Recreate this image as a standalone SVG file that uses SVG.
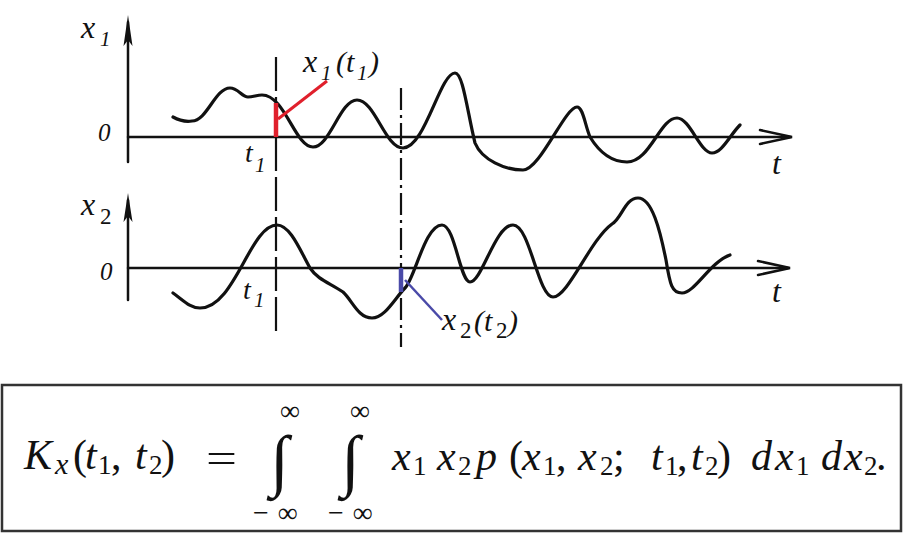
<svg xmlns="http://www.w3.org/2000/svg" width="903" height="533" viewBox="0 0 903 533">
<style>
text{font-family:'Liberation Serif',serif !important}
.ax{stroke:#111;stroke-width:2.5;fill:none;stroke-linecap:round}
.cv{stroke:#111;stroke-width:3.2;fill:none;stroke-linecap:round;stroke-linejoin:round}
</style>
<rect width="903" height="533" fill="#fff"/>

<g id="plot-top">
  <line class="ax" x1="128" y1="22" x2="128" y2="162"/>
  <polygon points="128,15 123.5,46 128,40 132.5,46" fill="#111"/>
  <line class="ax" x1="128" y1="137" x2="790" y2="137"/>
  <path class="ax" d="M760,130 L792,137 L760,144"/>
  <text font-family="Liberation Serif" font-style="italic" fill="#111" x="81" y="38" font-size="32">x</text>
  <text font-family="Liberation Serif" font-style="italic" fill="#111" x="100" y="46" font-size="21">1</text>
  <text font-family="Liberation Serif" font-style="italic" fill="#111" x="98" y="141" font-size="25">0</text>
  <text font-family="Liberation Serif" font-style="italic" fill="#111" x="245" y="162" font-size="28">t</text>
  <text font-family="Liberation Serif" font-style="italic" fill="#111" x="255" y="172" font-size="21">1</text>
  <text font-family="Liberation Serif" font-style="italic" fill="#111" x="772" y="174" font-size="32">t</text>
  <path class="cv" d="M173,117 C180,121 185,122 192,121 C207,121 215,88 230,88 C238,88 242,97 248,97 C253,97 257,95 262,95 C285,95 295,147 313,147 C330,147 340,100 357,100 C375,100 385,148 403,148 C425,148 440,73 455,73 C463,73 467,110 475,143 C482,160 505,170 523,170 C540,170 565,107 577,107 C583,107 585,125 590,137 C598,150 610,162 627,162 C650,162 660,118 677,118 C690,118 700,153 712,153 C722,153 730,135 740,125"/>
</g>

<g id="plot-bottom">
  <line class="ax" x1="128" y1="200" x2="128" y2="300"/>
  <polygon points="128,193 123.5,222 128,216 132.5,222" fill="#111"/>
  <line class="ax" x1="128" y1="268" x2="788" y2="268"/>
  <path class="ax" d="M758,261 L790,268 L758,275"/>
  <text font-family="Liberation Serif" font-style="italic" fill="#111" x="81" y="215" font-size="32">x</text>
  <text font-family="Liberation Serif" fill="#111" x="100" y="224" font-size="23">2</text>
  <text font-family="Liberation Serif" font-style="italic" fill="#111" x="100" y="280" font-size="25">0</text>
  <text font-family="Liberation Serif" font-style="italic" fill="#111" x="243" y="299" font-size="28">t</text>
  <text font-family="Liberation Serif" font-style="italic" fill="#111" x="254" y="307" font-size="21">1</text>
  <text font-family="Liberation Serif" font-style="italic" fill="#111" x="772" y="302" font-size="32">t</text>
  <path class="cv" d="M173,293 C183,300 190,308 200,308 C235,308 250,225 277,225 C290,225 300,250 310,268 C318,280 330,283 343,292 C352,300 358,318 372,318 C385,318 395,298 405,288 C415,278 425,225 442,225 C455,225 460,282 470,282 C482,282 495,225 513,225 C530,225 538,297 553,297 C568,297 590,240 612,224 C622,218 625,198 638,198 C652,198 660,230 666,260 C670,285 672,293 682,293 C695,293 710,262 730,255"/>
</g>

<g id="time-markers">
  <line x1="276" y1="57" x2="276" y2="335" stroke="#111" stroke-width="2.2" stroke-dasharray="34 6"/>
  <line x1="401" y1="88" x2="401" y2="347" stroke="#111" stroke-width="2.2" stroke-dasharray="22 5 3 5"/>
</g>

<g id="connectors">
  <line x1="276" y1="103" x2="276" y2="137" stroke="#e0202c" stroke-width="4.5"/>
  <line x1="278" y1="119" x2="327" y2="81" stroke="#e0202c" stroke-width="3"/>
  <line x1="401" y1="268" x2="401" y2="292" stroke="#4a4aa8" stroke-width="4.5"/>
  <line x1="405" y1="280" x2="442" y2="320" stroke="#4a4aa8" stroke-width="2.5"/>
</g>

<g id="label-x1t1">
  <text font-family="Liberation Serif" font-style="italic" fill="#111" x="303" y="72" font-size="32">x</text>
  <text font-family="Liberation Serif" font-style="italic" fill="#111" x="321" y="80" font-size="21">1</text>
  <text font-family="Liberation Serif" font-style="italic" fill="#111" x="336" y="72" font-size="30">(t</text>
  <text font-family="Liberation Serif" font-style="italic" fill="#111" x="357" y="80" font-size="21">1</text>
  <text font-family="Liberation Serif" font-style="italic" fill="#111" x="369" y="72" font-size="30">)</text>
</g>

<g id="label-x2t2">
  <text font-family="Liberation Serif" font-style="italic" fill="#111" x="442" y="330" font-size="32">x</text>
  <text font-family="Liberation Serif" fill="#111" x="460" y="338" font-size="23">2</text>
  <text font-family="Liberation Serif" font-style="italic" fill="#111" x="474" y="331" font-size="30">(t</text>
  <text font-family="Liberation Serif" fill="#111" x="496" y="338" font-size="23">2</text>
  <text font-family="Liberation Serif" font-style="italic" fill="#111" x="508" y="331" font-size="30">)</text>
</g>

<g id="formula" fill="#111">
  <rect x="2" y="385" width="899" height="146" fill="none" stroke="#333" stroke-width="2.5"/>
  <text font-family="Liberation Serif" font-style="italic" font-size="42" x="24" y="469">K</text>
  <text font-family="Liberation Serif" font-style="italic" font-size="30" x="55" y="474">x</text>
  <text font-family="Liberation Serif" font-size="42" x="73" y="469">(</text>
  <text font-family="Liberation Serif" font-style="italic" font-size="42" x="85" y="469">t</text>
  <text font-family="Liberation Serif" font-size="27" x="98" y="474">1</text>
  <text font-family="Liberation Serif" font-size="42" x="111" y="469">,</text>
  <text font-family="Liberation Serif" font-style="italic" font-size="42" x="135" y="469">t</text>
  <text font-family="Liberation Serif" font-size="27" x="149" y="474">2</text>
  <text font-family="Liberation Serif" font-size="42" x="161" y="469">)</text>
  <text font-family="Liberation Serif" font-size="42" x="206" y="472" textLength="31" lengthAdjust="spacingAndGlyphs">=</text>
  <text font-family="Liberation Serif" font-size="68" x="270" y="483">∫</text>
  <text font-family="Liberation Serif" font-size="28" x="280" y="420">∞</text>
  <text font-family="Liberation Serif" font-size="28" x="253" y="522">−<tspan dx="9">∞</tspan></text>
  <text font-family="Liberation Serif" font-size="68" x="341" y="483">∫</text>
  <text font-family="Liberation Serif" font-size="28" x="350" y="420">∞</text>
  <text font-family="Liberation Serif" font-size="28" x="328" y="522">−<tspan dx="9">∞</tspan></text>
  <text font-family="Liberation Serif" font-style="italic" font-size="42" x="392" y="470">x</text>
  <text font-family="Liberation Serif" font-size="27" x="413" y="475">1</text>
  <text font-family="Liberation Serif" font-style="italic" font-size="42" x="437" y="470">x</text>
  <text font-family="Liberation Serif" font-size="27" x="458" y="475">2</text>
  <text font-family="Liberation Serif" font-style="italic" font-size="42" x="476" y="470">p</text>
  <text font-family="Liberation Serif" font-size="42" x="509" y="470">(</text>
  <text font-family="Liberation Serif" font-style="italic" font-size="42" x="522" y="470">x</text>
  <text font-family="Liberation Serif" font-size="27" x="543" y="475">1</text>
  <text font-family="Liberation Serif" font-size="42" x="556" y="470">,</text>
  <text font-family="Liberation Serif" font-style="italic" font-size="42" x="578" y="470">x</text>
  <text font-family="Liberation Serif" font-size="27" x="600" y="475">2</text>
  <text font-family="Liberation Serif" font-size="42" x="613" y="470">;</text>
  <text font-family="Liberation Serif" font-style="italic" font-size="42" x="651" y="470">t</text>
  <text font-family="Liberation Serif" font-size="27" x="665" y="475">1</text>
  <text font-family="Liberation Serif" font-size="42" x="677" y="470">,</text>
  <text font-family="Liberation Serif" font-style="italic" font-size="42" x="691" y="470">t</text>
  <text font-family="Liberation Serif" font-size="27" x="705" y="475">2</text>
  <text font-family="Liberation Serif" font-size="42" x="717" y="470">)</text>
  <text font-family="Liberation Serif" font-style="italic" font-size="42" x="751" y="470">d</text>
  <text font-family="Liberation Serif" font-style="italic" font-size="42" x="775" y="470">x</text>
  <text font-family="Liberation Serif" font-size="27" x="796" y="475">1</text>
  <text font-family="Liberation Serif" font-style="italic" font-size="42" x="821" y="470">d</text>
  <text font-family="Liberation Serif" font-style="italic" font-size="42" x="844" y="470">x</text>
  <text font-family="Liberation Serif" font-size="27" x="864" y="475">2</text>
  <text font-family="Liberation Serif" font-size="42" x="876" y="470">.</text>
</g>
</svg>
